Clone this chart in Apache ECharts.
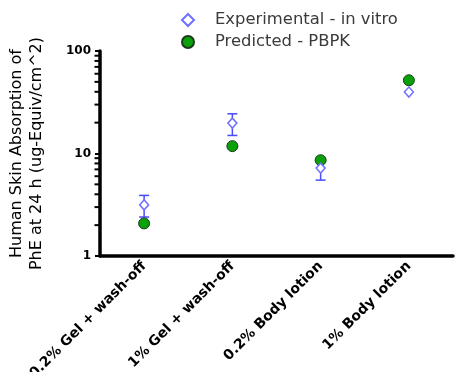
<!DOCTYPE html>
<html><head><meta charset="utf-8">
<script src="https://cdn.jsdelivr.net/npm/echarts@6/dist/echarts.min.js"></script>
<style>html,body{margin:0;padding:0;background:#fff}#c{width:455px;height:372px}</style>
</head><body><div id="c"></div>
<script>
const categories = ['0.2% Gel + wash-off', '1% Gel + wash-off', '0.2% Body lotion', '1% Body lotion'];
const experimental = [3.15, 19.8, 7.2, 39.8];
const expLow = [2.4, 15.0, 5.5, null];
const expHigh = [3.9, 24.4, 8.9, null];
const predicted = [2.08, 11.8, 8.6, 51.8];
const majorTicks = [1, 10, 100];
const minorTicks = [2, 3, 4, 5, 6, 7, 8, 9, 20, 30, 40, 50, 60, 70, 80, 90];

const font = 'DejaVu Sans, Arial, sans-serif';
const chart = echarts.init(document.getElementById('c'), null, {renderer: 'canvas'});
const errData = categories.map((c, i) => [i, expLow[i], expHigh[i]]).filter(d => d[1] != null);
const minorData = minorTicks.map(v => [0, v]);

chart.setOption({
  animation: false,
  grid: {left: 100, top: 51, right: 2, bottom: 116, containLabel: false, outerBoundsMode: 'none'},
  legend: {
    orient: 'vertical', left: 176, top: 7, itemGap: 6, itemWidth: 12, itemHeight: 12,
    textStyle: {fontFamily: font, fontSize: 16.4, color: '#3a3a3a', padding: [0, 0, 0, 16]},
    data: ['Experimental - in vitro', 'Predicted - PBPK']
  },
  xAxis: [{
    type: 'category', data: categories, boundaryGap: true,
    axisLine: {lineStyle: {color: '#000', width: 3.5}},
    axisTick: {alignWithLabel: true, length: 5, lineStyle: {color: '#000', width: 2}},
    axisLabel: {rotate: 45, fontFamily: font, fontWeight: 'bold', fontSize: 14, color: '#000', margin: 8, interval: 0},
    splitLine: {show: false}
  }, {
    type: 'value', min: 0, max: 1, show: false, position: 'bottom'
  }],
  yAxis: {
    type: 'log', logBase: 10, min: 1, max: 100,
    name: 'Human Skin Absorption of\nPhE at 24 h (ug-Equiv/cm^2)',
    nameLocation: 'middle', nameGap: 53, nameRotate: 90,
    nameTextStyle: {fontFamily: font, fontSize: 16, color: '#000', lineHeight: 20},
    axisLine: {show: true, lineStyle: {color: '#000', width: 3.5}},
    axisTick: {show: true, length: 5, lineStyle: {color: '#000', width: 2}},
    axisLabel: {fontFamily: font, fontWeight: 'bold', fontSize: 12, color: '#000', margin: 9},
    splitLine: {show: false}
  },
  series: [{
    name: 'errbars', type: 'custom', z: 2,
    data: errData,
    renderItem: function (params, api) {
      const x = api.value(0);
      const lo = api.coord([x, api.value(1)]);
      const hi = api.coord([x, api.value(2)]);
      const w = 5;
      const st = {stroke: '#4a4aff', lineWidth: 1.5};
      return {type: 'group', children: [
        {type: 'line', shape: {x1: lo[0], y1: lo[1], x2: hi[0], y2: hi[1]}, style: st},
        {type: 'line', shape: {x1: lo[0] - w, y1: lo[1], x2: lo[0] + w, y2: lo[1]}, style: st},
        {type: 'line', shape: {x1: hi[0] - w, y1: hi[1], x2: hi[0] + w, y2: hi[1]}, style: st}
      ]};
    }
  }, {
    name: 'Predicted - PBPK', type: 'scatter', symbol: 'circle', symbolSize: 11, z: 3,
    data: predicted,
    itemStyle: {color: '#0aa00a', borderColor: '#1a3a1a', borderWidth: 1, opacity: 1}
  }, {
    name: 'Experimental - in vitro', type: 'scatter', symbol: 'diamond', symbolSize: [9, 10], z: 4,
    data: experimental,
    itemStyle: {color: '#ffffff', borderColor: '#7070ff', borderWidth: 1.5, opacity: 1}
  }, {
    name: 'minor', type: 'custom', xAxisIndex: 1, yAxisIndex: 0, zlevel: 1, z: 10, clip: false, silent: true,
    data: minorData,
    renderItem: function (params, api) {
      const p = api.coord([api.value(0), api.value(1)]);
      return {
        type: 'line',
        shape: {x1: p[0] - 5.5, y1: p[1], x2: p[0] + 1, y2: p[1]},
        style: {stroke: '#000000', lineWidth: 2, fill: null}
      };
    }
  }]
});
</script></body></html>
